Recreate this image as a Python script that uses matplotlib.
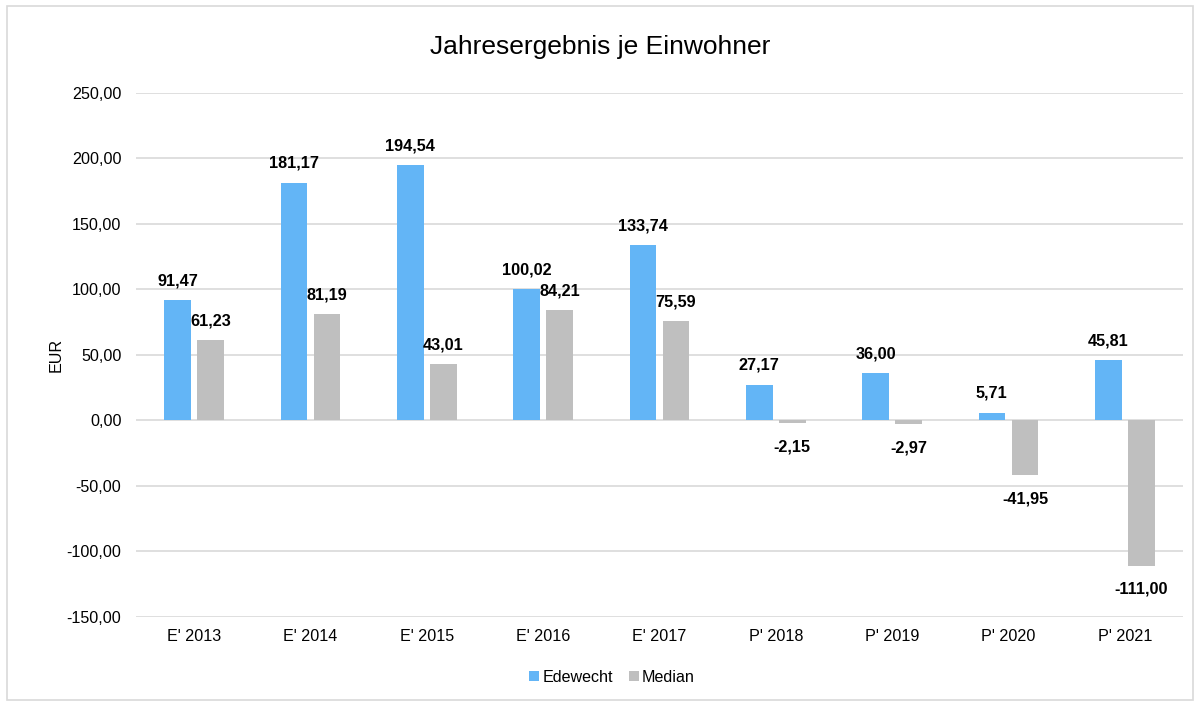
import matplotlib
matplotlib.use("Agg")
import matplotlib.pyplot as plt
import numpy as np
from matplotlib.patches import Rectangle

plt.rcParams['font.family'] = ['Liberation Sans', 'DejaVu Sans']

categories = ["E' 2013", "E' 2014", "E' 2015", "E' 2016", "E' 2017",
              "P' 2018", "P' 2019", "P' 2020", "P' 2021"]
edewecht = [91.47, 181.17, 194.54, 100.02, 133.74, 27.17, 36.00, 5.71, 45.81]
median = [61.23, 81.19, 43.01, 84.21, 75.59, -2.15, -2.97, -41.95, -111.00]
yticks = [-150, -100, -50, 0, 50, 100, 150, 200, 250]

blue = '#63B5F6'
gray = '#BFBFBF'

fig = plt.figure(figsize=(12, 7.04), dpi=100)
fig.patches.append(Rectangle((0.006, 0.006), 0.988, 0.985, transform=fig.transFigure,
                             fill=False, edgecolor='#D9D9D9', linewidth=1.2))
ax = fig.add_axes([0.1133, 0.1236, 0.8725, 0.7447])

x = np.arange(len(categories))
w = 0.23
gap = 0.055
b1 = ax.bar(x - (w + gap) / 2, edewecht, w, color=blue, label='Edewecht', zorder=3)
b2 = ax.bar(x + (w + gap) / 2, median, w, color=gray, label='Median', zorder=3)

def fmt(v):
    return f"{v:.2f}".replace('.', ',')

for bars, vals in ((b1, edewecht), (b2, median)):
    for r, v in zip(bars, vals):
        cx = r.get_x() + r.get_width() / 2
        if v >= 0:
            ax.annotate(fmt(v), (cx, v), xytext=(0, 14), textcoords='offset points',
                        ha='center', va='center', fontsize=11.7, fontweight='bold')
        else:
            ax.annotate(fmt(v), (cx, v), xytext=(0, -17), textcoords='offset points',
                        ha='center', va='center', fontsize=11.7, fontweight='bold')

ax.set_ylim(-150, 250)
ax.set_xlim(-0.5, len(categories) - 0.5)
ax.set_yticks(yticks)
ax.set_yticklabels([fmt(v) for v in yticks])
ax.set_xticks(x)
ax.set_xticklabels(categories)
ax.tick_params(axis='both', length=0, labelsize=11.6, colors='#000000')
ax.tick_params(axis='y', pad=10.5)
ax.tick_params(axis='x', pad=9)
ax.grid(axis='y', color='#D9D9D9', linewidth=1.2, zorder=0)
for s in ax.spines.values():
    s.set_visible(False)
ax.set_ylabel('EUR', fontsize=11.6, labelpad=2)

fig.text(0.5, 0.933, 'Jahresergebnis je Einwohner', ha='center', va='center', fontsize=19)

fig.legend(handles=[b1, b2], labels=['Edewecht', 'Median'], loc='center',
           bbox_to_anchor=(0.51, 0.038), ncol=2, frameon=False, fontsize=11.6,
           handlelength=0.6, handleheight=0.6, handletextpad=0.2, columnspacing=1.0)

fig.savefig('out.png', dpi=100)
